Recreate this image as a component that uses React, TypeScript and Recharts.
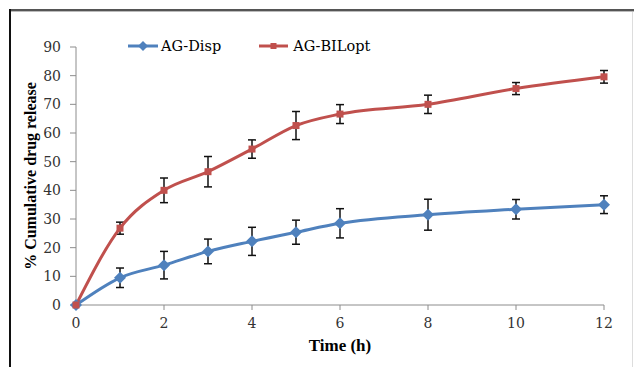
import React from 'react';
import { LineChart, Line, XAxis, YAxis, ErrorBar, Legend, Label } from 'recharts';

const times = [0, 1, 2, 3, 4, 5, 6, 8, 10, 12];
const dispValues = [0, 9.5, 13.9, 18.7, 22.2, 25.4, 28.5, 31.5, 33.4, 35.0];
const dispErrors = [null, 3.4, 4.8, 4.3, 4.9, 4.2, 5.1, 5.4, 3.4, 3.1];
const bilValues = [0, 26.8, 40.0, 46.5, 54.4, 62.6, 66.6, 70.0, 75.5, 79.6];
const bilErrors = [null, 2.1, 4.3, 5.3, 3.2, 4.9, 3.3, 3.2, 2.1, 2.2];
const xTicks = [0, 2, 4, 6, 8, 10, 12];
const yTicks = [0, 10, 20, 30, 40, 50, 60, 70, 80, 90];
const seriesNames = ['AG-Disp', 'AG-BILopt'];

const data = times.map((t, i) => ({
  time: t,
  disp: dispValues[i],
  dispErr: dispErrors[i],
  bil: bilValues[i],
  bilErr: bilErrors[i],
}));

const BLUE = '#4F81BD';
const RED = '#C0504D';
const TICK_FONT = '"DejaVu Serif", serif';
const TITLE_FONT = '"Liberation Serif", "Times New Roman", serif';

const Diamond = (props: any) => {
  const { cx, cy } = props;
  if (cx == null || cy == null) return null;
  const r = 6;
  return <path d={`M${cx},${cy - r}L${cx + r},${cy}L${cx},${cy + r}L${cx - r},${cy}Z`} fill={BLUE} />;
};

const Square = (props: any) => {
  const { cx, cy } = props;
  if (cx == null || cy == null) return null;
  const s = 3.5;
  return <rect x={cx - s} y={cy - s} width={2 * s} height={2 * s} fill={RED} />;
};

const LegendContent = () => (
  <div style={{ display: 'flex', alignItems: 'center', fontFamily: TICK_FONT, fontSize: 14.5, color: '#000' }}>
    <svg width={30} height={14}>
      <line x1={0} y1={7} x2={30} y2={7} stroke={BLUE} strokeWidth={3} />
      <path d="M15,2L20,7L15,12L10,7Z" fill={BLUE} />
    </svg>
    <span style={{ marginLeft: 3, marginRight: 38 }}>{seriesNames[0]}</span>
    <svg width={29} height={14}>
      <line x1={0} y1={7} x2={29} y2={7} stroke={RED} strokeWidth={3} />
      <rect x={11.5} y={4} width={6} height={6} fill={RED} />
    </svg>
    <span style={{ marginLeft: 5 }}>{seriesNames[1]}</span>
  </div>
);

const YTitle = (props: any) => {
  const vb = props.viewBox || { x: 0, y: 31, width: 76, height: 274 };
  const x = vb.x + 30;
  const y = vb.y + vb.height / 2;
  return (
    <text
      x={x}
      y={y}
      transform={`rotate(-90, ${x}, ${y})`}
      textAnchor="middle"
      dominantBaseline="central"
      fontFamily={TITLE_FONT}
      fontWeight="bold"
      fontSize={16}
      fill="#000"
    >
      % Cumulative drug release
    </text>
  );
};

export default function App() {
  return (
    <div style={{ position: 'absolute', left: 0, top: 0, width: 634, height: 367, background: '#fff' }}>
      <div style={{ position: 'absolute', left: 9, top: 9, width: 625, height: 2, background: '#555' }} />
      <div style={{ position: 'absolute', left: 9, top: 11, width: 625, height: 1, background: '#bbb' }} />
      <div style={{ position: 'absolute', left: 9, top: 9, width: 2, height: 358, background: '#111' }} />
      <div style={{ position: 'absolute', left: 632, top: 12, width: 1, height: 355, background: '#ddd' }} />
      <LineChart
        width={634}
        height={367}
        data={data}
        margin={{ top: 31, right: 30, bottom: 12, left: 0 }}
        style={{ position: 'absolute', left: 0, top: 0 }}
      >
        <XAxis
          dataKey="time"
          type="number"
          domain={[0, 12]}
          ticks={xTicks}
          height={50}
          tickSize={5}
          tickMargin={8}
          stroke="#8c8c8c"
          tick={{ fill: '#333', fontFamily: TICK_FONT, fontSize: 14 }}
        >
          <Label
            value="Time (h)"
            position="insideBottom"
            offset={4}
            style={{ fontFamily: TITLE_FONT, fontWeight: 'bold', fontSize: 17, fill: '#000' }}
          />
        </XAxis>
        <YAxis
          type="number"
          domain={[0, 90]}
          ticks={yTicks}
          width={76}
          tickSize={6}
          tickMargin={9}
          stroke="#8c8c8c"
          tick={{ fill: '#333', fontFamily: TICK_FONT, fontSize: 14 }}
          interval={0}
        >
          <Label content={YTitle} />
        </YAxis>
        <Legend
          verticalAlign="top"
          content={LegendContent}
          wrapperStyle={{ position: 'absolute', top: 38, left: 128, width: 320 }}
        />
        <Line
          type="monotone"
          dataKey="disp"
          name={seriesNames[0]}
          stroke={BLUE}
          strokeWidth={3}
          dot={Diamond}
          activeDot={false}
          isAnimationActive={false}
        >
          <ErrorBar dataKey="dispErr" direction="y" width={4} stroke="#111" strokeWidth={1.5} isAnimationActive={false} />
        </Line>
        <Line
          type="monotone"
          dataKey="bil"
          name={seriesNames[1]}
          stroke={RED}
          strokeWidth={3}
          dot={Square}
          activeDot={false}
          isAnimationActive={false}
        >
          <ErrorBar dataKey="bilErr" direction="y" width={4} stroke="#111" strokeWidth={1.5} isAnimationActive={false} />
        </Line>
      </LineChart>
    </div>
  );
}
